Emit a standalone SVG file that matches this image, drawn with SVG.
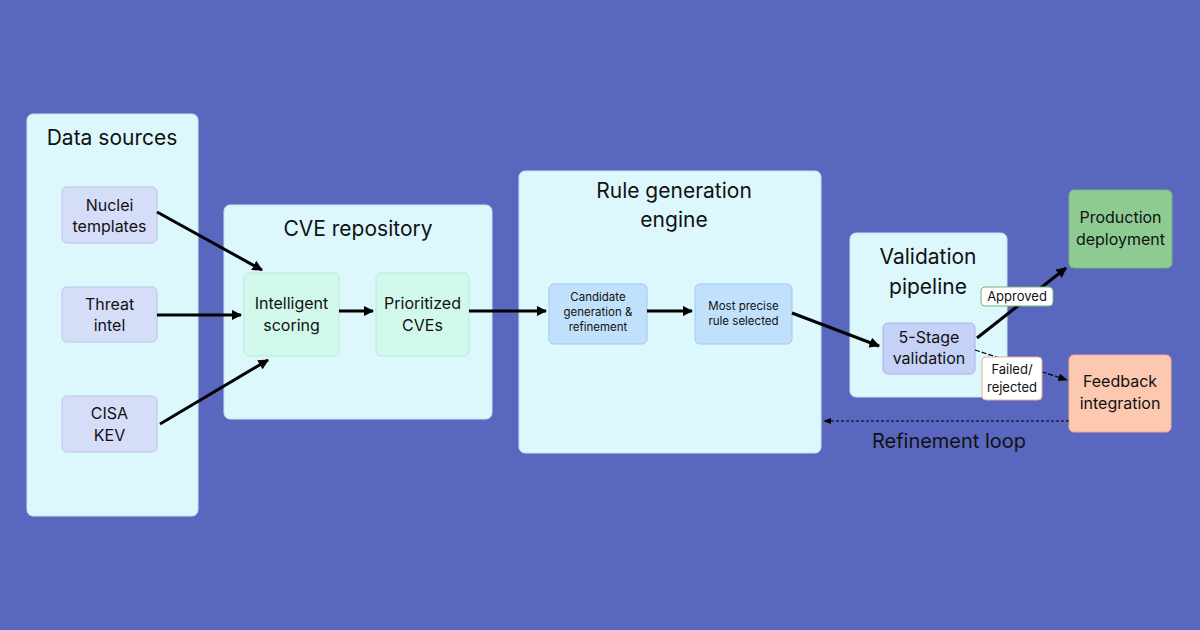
<svg xmlns="http://www.w3.org/2000/svg" width="1200" height="630" viewBox="0 0 1200 630">
<defs>
<marker id="ah" viewBox="0 0 10 10" refX="9" refY="5" markerWidth="3.5" markerHeight="3.5" orient="auto"><path d="M0,0 L10,5 L0,10 z" fill="#000"/></marker>
<marker id="ahs" viewBox="0 0 10 10" refX="9" refY="5" markerWidth="8" markerHeight="8" orient="auto"><path d="M0,1 L10,5 L0,9 z" fill="#000"/></marker>
</defs>
<style>
text{font-family:Inter,"Noto Sans",sans-serif;fill:#111;text-anchor:middle}
.cont{fill:#dcf8fd;stroke:#c4e6f0;stroke-width:1}
.title{font-size:21px}
.src{fill:#d6ddf9;stroke:#b9c5ec;stroke-width:1}
.mint{fill:#d2f8ec;stroke:#b7ead9;stroke-width:1}
.blue{fill:#c0e0fb;stroke:#9fc8ee;stroke-width:1}
.lav{fill:#c6d1f8;stroke:#a5b4ea;stroke-width:1}
.n{font-size:16px}
.s{font-size:11.5px}
.c{stroke:#000;stroke-width:3;fill:none}
</style>
<rect width="1200" height="630" fill="#5a67bf"/>

<g id="data-sources">
<rect class="cont" x="27" y="114" width="171" height="402" rx="6"/>
<text class="title" x="112" y="145">Data sources</text>
</g>
<g id="nuclei">
<rect class="src" x="62" y="187" width="95" height="56" rx="5"/>
<text class="n" x="109.5" y="211">Nuclei</text>
<text class="n" x="109.5" y="232">templates</text>
</g>
<g id="threat">
<rect class="src" x="62" y="287" width="95" height="55" rx="5"/>
<text class="n" x="109.5" y="310">Threat</text>
<text class="n" x="109.5" y="331">intel</text>
</g>
<g id="cisa">
<rect class="src" x="62" y="396" width="95" height="56" rx="5"/>
<text class="n" x="109.5" y="419">CISA</text>
<text class="n" x="109.5" y="441">KEV</text>
</g>

<g id="cve-repository">
<rect class="cont" x="224" y="205" width="268" height="214" rx="6"/>
<text class="title" x="358" y="236">CVE repository</text>
</g>
<g id="intelligent">
<rect class="mint" x="244" y="273" width="95" height="83" rx="5"/>
<text class="n" x="291.5" y="309">Intelligent</text>
<text class="n" x="291.5" y="331">scoring</text>
</g>
<g id="prioritized">
<rect class="mint" x="376" y="273" width="93" height="83" rx="5"/>
<text class="n" x="422.5" y="309">Prioritized</text>
<text class="n" x="422.5" y="331">CVEs</text>
</g>

<g id="rule-engine">
<rect class="cont" x="519" y="171" width="302" height="282" rx="6"/>
<text class="title" x="674" y="198">Rule generation</text>
<text class="title" x="674" y="227">engine</text>
</g>
<g id="candidate">
<rect class="blue" x="549" y="284" width="98" height="60" rx="5"/>
<text class="s" x="598" y="301">Candidate</text>
<text class="s" x="598" y="316">generation &amp;</text>
<text class="s" x="598" y="331">refinement</text>
</g>
<g id="most-precise">
<rect class="blue" x="695" y="284" width="97" height="60" rx="5"/>
<text class="s" x="743.5" y="310">Most precise</text>
<text class="s" x="743.5" y="325">rule selected</text>
</g>

<g id="validation">
<rect class="cont" x="850" y="233" width="157" height="164" rx="6"/>
<text class="title" x="928" y="264">Validation</text>
<text class="title" x="928" y="294">pipeline</text>
</g>
<g id="five-stage">
<rect class="lav" x="883" y="323" width="92" height="51" rx="5"/>
<text class="n" x="929" y="343">5-Stage</text>
<text class="n" x="929" y="364">validation</text>
</g>

<g id="production">
<rect x="1069" y="190" width="103" height="78" rx="5" fill="#8ecb93" stroke="#74b47a"/>
<text class="n" x="1120.5" y="223">Production</text>
<text class="n" x="1120.5" y="245">deployment</text>
</g>
<g id="feedback">
<rect x="1069" y="355" width="102" height="77" rx="5" fill="#fcc9b0" stroke="#eab095"/>
<text class="n" x="1120" y="387">Feedback</text>
<text class="n" x="1120" y="409">integration</text>
</g>

<g id="connectors">
<line class="c" x1="157" y1="212" x2="262" y2="270" marker-end="url(#ah)"/>
<line class="c" x1="157" y1="315" x2="241" y2="315" marker-end="url(#ah)"/>
<line class="c" x1="160" y1="424" x2="268" y2="360" marker-end="url(#ah)"/>
<line class="c" x1="339" y1="311" x2="373" y2="311" marker-end="url(#ah)"/>
<line class="c" x1="469" y1="311" x2="546" y2="311" marker-end="url(#ah)"/>
<line class="c" x1="647" y1="311" x2="692" y2="311" marker-end="url(#ah)"/>
<line class="c" x1="792" y1="313" x2="879" y2="346" marker-end="url(#ah)"/>
<line class="c" x1="977" y1="338" x2="1066" y2="268" marker-end="url(#ah)"/>
<line x1="975" y1="350" x2="1067" y2="380" stroke="#000" stroke-width="1.2" stroke-dasharray="5,2" marker-end="url(#ahs)"/>
<line x1="1069" y1="421" x2="824" y2="421" stroke="#000" stroke-width="1" stroke-dasharray="3,2" marker-end="url(#ahs)"/>
</g>

<g id="label-approved">
<rect x="981" y="287" width="72" height="19" rx="4" fill="#fff" stroke="#6fb878"/>
<text x="1017" y="301" style="font-size:13px">Approved</text>
</g>
<g id="label-failed">
<rect x="982" y="357" width="60" height="43" rx="4" fill="#fff" stroke="#eab095"/>
<text x="1012" y="374" style="font-size:13px">Failed/</text>
<text x="1012" y="392" style="font-size:13px">rejected</text>
</g>
<g id="label-refinement">
<text x="949" y="448" style="font-size:20px">Refinement loop</text>
</g>
</svg>
